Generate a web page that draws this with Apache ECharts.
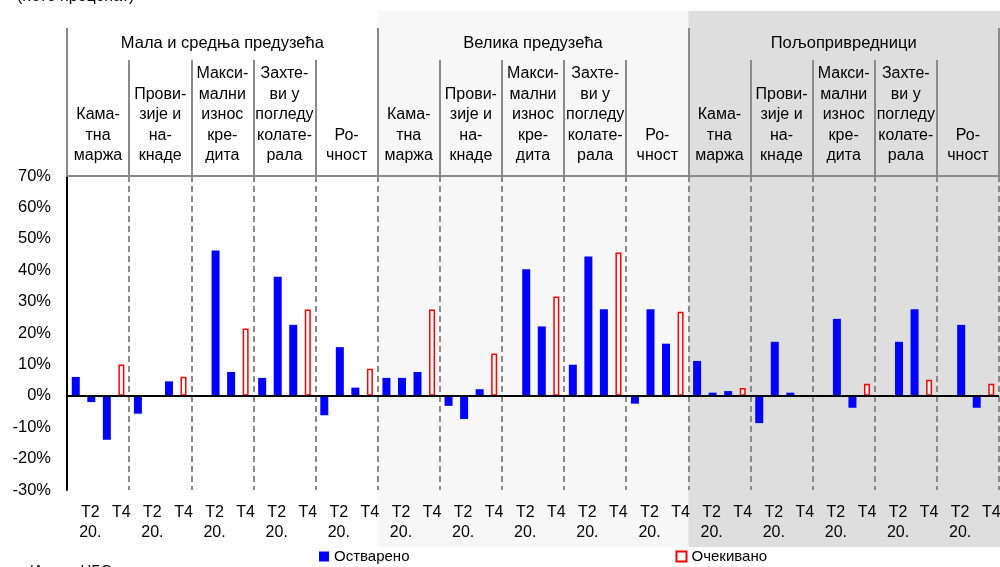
<!DOCTYPE html>
<html><head><meta charset="utf-8">
<script src="https://cdn.jsdelivr.net/npm/echarts@6/dist/echarts.min.js"></script>
<style>html,body{margin:0;padding:0;background:#fff}#c{width:1000px;height:567px}</style>
</head><body><div id="c"></div>
<script>
const sectors = ["Мала и средња предузећа", "Велика предузећа", "Пољопривредници"];
const criteria = ["Кама-\nтна\nмаржа", "Прови-\nзије и\nна-\nкнаде", "Макси-\nмални\nизнос\nкре-\nдита", "Захте-\nви у\nпогледу\nколате-\nрала", "Ро-\nчност"];
const quarterLabels = ["", "Т2\n20.", "", "Т4"];
// realized values per quarter slot (15 groups: 3 sectors x 5 criteria)
const realizedQ1 = [6, -5.7, 0, 5.7, -6.2, 5.7, -3.2, 0, 9.9, -2.5, 11.1, -8.7, 0, 0, 0];
const realizedQ2 = [-2, 0, 46.3, 37.9, 15.5, 5.7, -7.4, 40.3, 44.4, 27.6, 1, 17.2, 24.5, 17.2, 22.6];
const realizedQ3 = [-14, 4.6, 7.6, 22.6, 2.6, 7.6, 2.1, 22.1, 27.6, 16.6, 1.5, 1, -3.8, 27.6, -3.8];
const expectedQ4 = [10, 6.1, 21.4, 27.5, 8.6, 27.5, 13.5, 31.6, 45.6, 26.8, 2.5, 0, 3.8, 5.1, 3.8];
const yMin = -30, yMax = 70, yStep = 10;
const seriesNames = ["Остварено", "Очекивано"];

const FONT = "'Liberation Sans', Arial, sans-serif";
const groupCriteria = [];
sectors.forEach(() => criteria.forEach(c => groupCriteria.push(c)));
const cats = [], blue = [], red = [];
for (let g = 0; g < groupCriteria.length; g++) {
  for (let s = 0; s < 4; s++) {
    cats.push(String(g * 4 + s));
    if (s === 0) blue.push(realizedQ1[g]);
    else if (s === 1) blue.push(realizedQ2[g]);
    else if (s === 2) blue.push(realizedQ3[g]);
    else blue.push(null);
    red.push(s === 3 ? expectedQ4[g] : null);
  }
}

const chart = echarts.init(document.getElementById('c'));
const gray = '#8a8a8a';
chart.setOption({
  animation: false,
  textStyle: { fontFamily: FONT },
  grid: { left: 67, width: 932, top: 176, bottom: 77, containLabel: false, outerBoundsMode: 'none' },
  legend: {
    data: seriesNames, left: 319, top: 549, itemWidth: 10, itemHeight: 10, itemGap: 266, padding: 0,
    icon: 'rect',
    textStyle: { fontSize: 15, color: '#000', fontFamily: FONT }
  },
  xAxis: [
    {
      type: 'category', data: cats, position: 'bottom',
      axisLine: { show: false, onZero: false }, axisTick: { show: false },
      axisLabel: { interval: 0, margin: 13, fontSize: 16, lineHeight: 20, color: '#000', verticalAlign: 'top',
        formatter: (v, i) => quarterLabels[i % 4] }
    },
    {
      type: 'category', data: groupCriteria, position: 'top',
      axisLine: { show: true, onZero: false, lineStyle: { color: gray, width: 2 } },
      axisTick: { show: true, length: 116, lineStyle: { color: gray, width: 2 } },
      axisLabel: { interval: 0, margin: 10, fontSize: 16, lineHeight: 20.5, color: '#000' },
      splitLine: { show: true, interval: 0, lineStyle: { color: gray, width: 2, type: [6, 4] } }
    },
    {
      type: 'category', data: sectors, position: 'top',
      axisLine: { show: false, onZero: false },
      axisTick: { show: true, length: 148, lineStyle: { color: gray, width: 2 } },
      axisLabel: { interval: 0, margin: 124, fontSize: 16.5, color: '#000' }
    }
  ],
  yAxis: {
    type: 'value', min: yMin, max: yMax, interval: yStep,
    axisLine: { show: true, lineStyle: { color: '#000', width: 2 } },
    axisTick: { show: false }, splitLine: { show: false },
    axisLabel: { formatter: '{value}%', fontSize: 16.5, color: '#000', margin: 16 }
  },
  series: [
    {
      name: seriesNames[0], type: 'bar', data: blue, barWidth: 8, barGap: '-100%',
      itemStyle: { color: '#0000ff' },
      markLine: { silent: true, symbol: ['none', 'none'], label: { show: false },
        lineStyle: { color: '#000', width: 2, type: 'solid' }, data: [{ yAxis: 0 }] }
    },
    {
      name: seriesNames[1], type: 'bar', data: red, barWidth: 6, barGap: '-100%',
      itemStyle: { color: '#ffffff', borderColor: '#ff0000', borderWidth: 1.5 }
    }
  ]
});

const p0 = chart.convertToPixel({ xAxisIndex: 0 }, 0);
const p1 = chart.convertToPixel({ xAxisIndex: 0 }, 1);
const band = p1 - p0;
const leftOf = i => chart.convertToPixel({ xAxisIndex: 0 }, i) - band / 2;
const s2 = leftOf(20), s3 = leftOf(40), end = leftOf(59) + band;
chart.setOption({
  graphic: [
    { type: 'rect', z: -10, shape: { x: s2, y: 11, width: s3 - s2, height: 536 }, style: { fill: '#f7f7f7' } },
    { type: 'rect', z: -10, shape: { x: s3, y: 11, width: end - s3 + 5, height: 536 }, style: { fill: '#dedede' } },
    { type: 'text', x: 17, y: -11, style: { text: '(нето проценат)', fontSize: 16, fill: '#000', fontFamily: FONT } },
    { type: 'text', x: 30, y: 563, style: { text: 'Извор: НБС.', fontSize: 15, fill: '#000', fontFamily: FONT } }
  ]
});
</script></body></html>
